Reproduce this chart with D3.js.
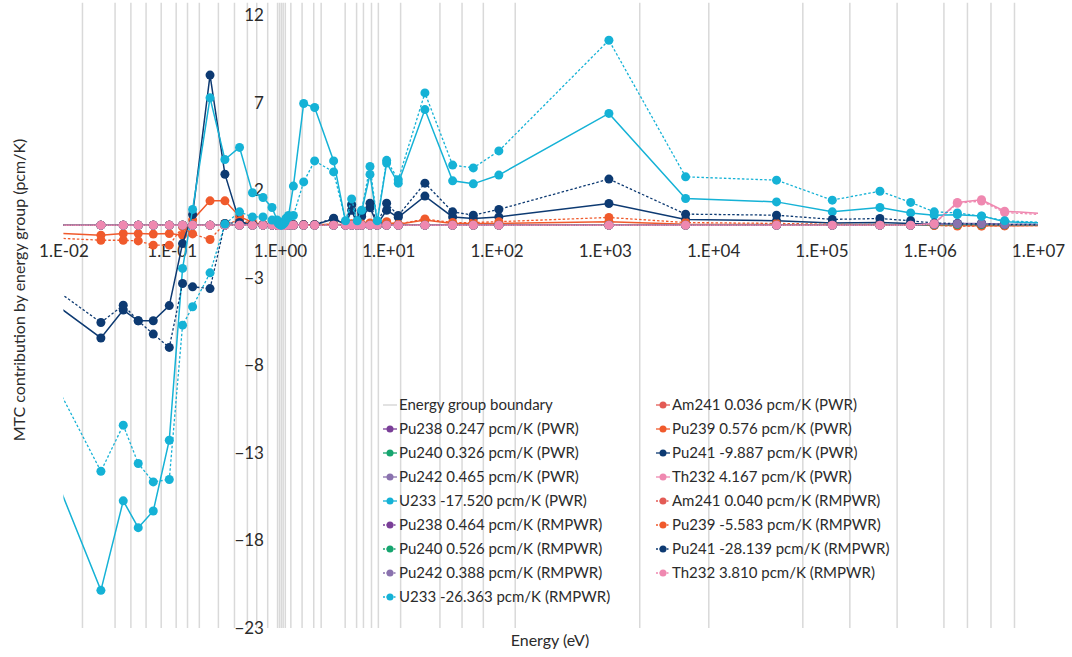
<!DOCTYPE html>
<html>
<head>
<meta charset="utf-8">
<title>MTC contribution by energy group</title>
<style>
  body { margin: 0; background: #fff; }
  svg { font-family: Lato, "Open Sans", sans-serif; }
  .axis text { font-size: 17px; fill: #2b2b2b; }
  .legend text { font-size: 15px; fill: #2b2b2b; }
  .title { font-size: 16px; fill: #2b2b2b; }
</style>
</head>
<body>
<svg width="1072" height="657"></svg>
<script src="https://d3js.org/d3.v7.min.js"></script>
<script>
// group energies (eV) where the points sit; first and last fall outside the axis
const energy = [
  0.0075, 0.0222, 0.0357, 0.0491, 0.0676, 0.095, 0.126, 0.156, 0.226, 0.31,
  0.423, 0.557, 0.697, 0.844, 0.94, 0.965, 0.99, 1.015, 1.04, 1.065,
  1.09, 1.115, 1.14, 1.2, 1.33, 1.655, 2.09, 3.13, 4.03, 4.59,
  5.17, 5.68, 6.78, 7.91, 9.66, 12.37, 21.8, 39.3, 61, 105,
  1090, 5570, 38500, 126000, 347000, 667000, 1.1e6, 1.8e6, 3.01e6, 4.92e6, 1.5e7
];

// energy group boundaries (eV)
const groupBoundaries = [
  0.015, 0.03, 0.042, 0.058, 0.08, 0.11, 0.14, 0.18, 0.27, 0.38,
  0.5, 0.61, 0.77, 0.95, 0.99, 1.03, 1.07, 1.12, 1.26, 1.6,
  2.05, 2.4, 4.0, 5.1, 5.9, 7.0, 8.1, 13, 30, 48,
  75.5, 148.7, 2100, 9118, 67340, 183000, 500000, 1353000, 2231000, 3679000,
  6065500
];
const boundaryBottom = -23;
const boundaryTop = 12.7;

const xTicks = [1e-2, 1e-1, 1e0, 1e1, 1e2, 1e3, 1e4, 1e5, 1e6, 1e7];
const xTickLabels = ["1.E-02", "1.E-01", "1.E+00", "1.E+01", "1.E+02", "1.E+03", "1.E+04", "1.E+05", "1.E+06", "1.E+07"];
const yTicks = [-23, -18, -13, -8, -3, 2, 7, 12];

// MTC contribution per group (pcm/K)
const am241PWR = [
  0, 0, 0, 0, 0, 0, 0, 0, 0, 0,
  0, 0, 0, 0, 0, 0, 0, 0, 0, 0,
  0, 0, 0, 0, 0, 0, 0, 0, 0, 0,
  0, 0, 0, 0, 0, 0, 0, 0, 0, 0,
  0, 0, 0, 0, 0, 0, 0, 0, 0, 0, 0
];
const pu238PWR = [
  0, 0, 0, 0, 0, 0, 0, 0, 0, 0,
  0, 0, 0, 0, 0, 0, 0, 0, 0, 0,
  0, 0, 0, 0, 0, 0, 0, 0, 0, 0,
  0, 0, 0, 0, 0, 0, 0, 0, 0, 0,
  0, 0, 0, 0, 0, 0, 0.02, 0.04, 0.04, 0.02, 0.01
];
const pu239PWR = [
  -0.45, -0.57, -0.48, -0.48, -0.51, -0.48, -0.57, 0.3, 1.39, 1.39,
  0.5, 0.15, 0.05, 0.03, 0.02, 0.02, 0.02, 0.02, 0.02, 0.02,
  0.02, 0.02, 0.02, 0.02, 0.02, 0.02, 0.02, 0.05, 0.02, 0.05,
  0.02, 0.05, 0.1, 0.02, 0.15, 0.05, 0.3, 0.1, 0.1, 0.1,
  0.2, 0.05, 0.03, 0.02, 0.02, 0.01, 0, -0.02, -0.03, -0.03, -0.02
];
const pu240PWR = [
  0, 0, 0, 0, 0, 0, 0, 0, 0, 0,
  0, 0, 0, 0, 0, 0, 0, 0, 0, 0,
  0, 0, 0, 0, 0, 0, 0, 0, 0, 0,
  0, 0, 0, 0, 0, 0, 0, 0, 0, 0,
  0, 0, 0, 0, 0, 0, 0.01, 0.03, 0.03, 0.02, 0.01
];
const pu241PWR = [
  -4.29, -6.44, -4.85, -5.46, -5.46, -4.59, -1.05, 0.61, 8.57, 2.91,
  0.2, 0.05, 0.02, 0.02, 0.02, 0.02, 0.02, 0.02, 0.02, 0.02,
  0.02, 0.02, 0.02, 0.02, 0.02, 0.02, 0.03, 0.35, 0.05, 0.85,
  0.05, 0.5, 1.0, 0.05, 0.85, 0.45, 1.66, 0.47, 0.38, 0.47,
  1.24, 0.33, 0.25, 0.12, 0.15, 0.1, 0.05, 0.05, 0.04, 0.03, 0.02
];
const pu242PWR = [
  0, 0, 0, 0, 0, 0, 0, 0, 0, 0,
  0, 0, 0, 0, 0, 0, 0, 0, 0, 0,
  0, 0, 0, 0, 0, 0, 0, 0, 0, 0,
  0, 0, 0, 0, 0, 0, 0, 0, 0, 0,
  0, 0, 0, 0, 0, 0, 0.05, 0.1, 0.1, 0.05, 0.03
];
const th232PWR = [
  0, 0, 0, 0, 0, 0, 0, 0, 0, 0,
  0, 0, 0, 0, 0, 0, 0, 0, 0, 0,
  0, 0, 0, 0, 0, 0, 0, 0, 0, 0,
  0, 0, 0, 0, 0, 0, 0, 0, 0, 0,
  0, 0, 0, 0, 0, 0, 0.1, 1.3, 1.45, 0.8, 0.62
];
const u233PWR = [
  -13.6, -20.85, -15.74, -17.27, -16.32, -12.28, -2.47, 0.9, 7.27, 3.75,
  4.44, 1.85, 1.58, 1.01, 0.3, 0.2, 0.1, 0.05, 0.05, 0.1,
  0.15, 0.25, 0.4, 0.55, 2.23, 6.95, 6.72, 3.67, 0.2, 1.2,
  0.2, 0.8, 2.9, 0.2, 3.55, 2.4, 6.6, 2.53, 2.36, 2.86,
  6.38, 1.52, 1.33, 0.76, 1.01, 0.7, 0.57, 0.6, 0.53, 0.19, 0.1
];

const am241RMPWR = [
  0, 0, 0, 0, 0, 0, 0, 0, 0, 0,
  0, 0, 0, 0, 0, 0, 0, 0, 0, 0,
  0, 0, 0, 0, 0, 0, 0, 0, 0, 0,
  0, 0, 0, 0, 0, 0, 0, 0, 0, 0,
  0, 0, 0, 0, 0, 0, 0, 0, 0, 0, 0
];
const pu238RMPWR = [
  0, 0, 0, 0, 0, 0, 0, 0, 0, 0,
  0, 0, 0, 0, 0, 0, 0, 0, 0, 0,
  0, 0, 0, 0, 0, 0, 0, 0, 0, 0,
  0, 0, 0, 0, 0, 0, 0, 0, 0, 0,
  0, 0, 0, 0, 0, 0, 0.03, 0.06, 0.06, 0.03, 0.02
];
const pu239RMPWR = [
  -0.72, -0.86, -0.86, -0.9, -1.14, -1.14, -0.1, -0.5, -0.82, 0.1,
  0.25, 0.1, 0.03, 0.02, 0.02, 0.02, 0.02, 0.02, 0.02, 0.02,
  0.02, 0.02, 0.02, 0.02, 0.02, 0.02, 0.02, 0.05, 0.02, 0.08,
  0.02, 0.06, 0.12, 0.02, 0.2, 0.06, 0.35, 0.15, 0.15, 0.2,
  0.44, 0.15, 0.1, 0.05, 0.04, 0.02, -0.02, -0.05, -0.05, -0.03, -0.02
];
const pu240RMPWR = [
  0, 0, 0, 0, 0, 0, 0, 0, 0, 0,
  0, 0, 0, 0, 0, 0, 0, 0, 0, 0,
  0, 0, 0, 0, 0, 0, 0, 0, 0, 0,
  0, 0, 0, 0, 0, 0, 0, 0, 0, 0,
  0, 0, 0, 0, 0, 0, 0.02, 0.04, 0.04, 0.02, 0.01
];
const pu241RMPWR = [
  -3.45, -5.56, -4.57, -5.46, -6.22, -6.98, -3.33, -3.52, -3.62, 0.1,
  0.15, 0.05, 0.02, 0.02, 0.02, 0.02, 0.02, 0.02, 0.02, 0.02,
  0.02, 0.02, 0.02, 0.02, 0.02, 0.02, 0.03, 0.4, 0.1, 1.15,
  0.05, 0.7, 1.25, 0.1, 1.25, 0.55, 2.4, 0.76, 0.57, 0.9,
  2.63, 0.63, 0.57, 0.33, 0.38, 0.25, 0.12, 0.1, 0.08, 0.05, 0.03
];
const pu242RMPWR = [
  0, 0, 0, 0, 0, 0, 0, 0, 0, 0,
  0, 0, 0, 0, 0, 0, 0, 0, 0, 0,
  0, 0, 0, 0, 0, 0, 0, 0, 0, 0,
  0, 0, 0, 0, 0, 0, 0, 0, 0, 0,
  0, 0, 0, 0, 0, 0, 0.04, 0.08, 0.08, 0.04, 0.02
];
const th232RMPWR = [
  0, 0, 0, 0, 0, 0, 0, 0, 0, 0,
  0, 0, 0, 0, 0, 0, 0, 0, 0, 0,
  0, 0, 0, 0, 0, 0, 0, 0, 0, 0,
  0, 0, 0, 0, 0, 0, 0, 0, 0, 0,
  0, 0, 0, 0, 0, 0, 0.08, 1.25, 1.38, 0.72, 0.55
];
const u233RMPWR = [
  -8.43, -14.05, -11.42, -13.61, -14.66, -14.52, -5.71, -4.66, -2.72, 0.06,
  0.76, 0.47, 0.47, 0.29, 0.2, 0.1, 0.05, 0.0, 0.0, 0.05,
  0.1, 0.2, 0.35, 0.45, 0.55, 2.47, 3.67, 3.04, 0.25, 1.5,
  0.25, 0.85, 3.35, 0.25, 3.7, 2.6, 7.55, 3.43, 3.27, 4.24,
  10.56, 2.76, 2.57, 1.43, 1.94, 1.3, 0.76, 0.7, 0.51, 0.25, 0.12
];

const colors = {
  Am241: "#e35b55",
  Pu238: "#7a3f98",
  Pu239: "#f05a2c",
  Pu240: "#16a56f",
  Pu241: "#0d3a72",
  Pu242: "#8a72ae",
  Th232: "#ef88b0",
  U233: "#15b2d6"
};

// drawing order (same as the workbook's series order)
const series = [
  { iso: "Am241", label: "Am241 0.036 pcm/K (PWR)", dashed: false, values: am241PWR },
  { iso: "Pu238", label: "Pu238 0.247 pcm/K (PWR)", dashed: false, values: pu238PWR },
  { iso: "Pu239", label: "Pu239 0.576 pcm/K (PWR)", dashed: false, values: pu239PWR },
  { iso: "Pu240", label: "Pu240 0.326 pcm/K (PWR)", dashed: false, values: pu240PWR },
  { iso: "Pu241", label: "Pu241 -9.887 pcm/K (PWR)", dashed: false, values: pu241PWR },
  { iso: "Pu242", label: "Pu242 0.465 pcm/K (PWR)", dashed: false, values: pu242PWR },
  { iso: "Th232", label: "Th232 4.167 pcm/K (PWR)", dashed: false, values: th232PWR },
  { iso: "U233", label: "U233 -17.520 pcm/K (PWR)", dashed: false, values: u233PWR },
  { iso: "Am241", label: "Am241 0.040 pcm/K (RMPWR)", dashed: true, values: am241RMPWR },
  { iso: "Pu238", label: "Pu238 0.464 pcm/K (RMPWR)", dashed: true, values: pu238RMPWR },
  { iso: "Pu239", label: "Pu239 -5.583 pcm/K (RMPWR)", dashed: true, values: pu239RMPWR },
  { iso: "Pu240", label: "Pu240 0.526 pcm/K (RMPWR)", dashed: true, values: pu240RMPWR },
  { iso: "Pu241", label: "Pu241 -28.139 pcm/K (RMPWR)", dashed: true, values: pu241RMPWR },
  { iso: "Pu242", label: "Pu242 0.388 pcm/K (RMPWR)", dashed: true, values: pu242RMPWR },
  { iso: "Th232", label: "Th232 3.810 pcm/K (RMPWR)", dashed: true, values: th232RMPWR },
  { iso: "U233", label: "U233 -26.363 pcm/K (RMPWR)", dashed: true, values: u233RMPWR }
];

const svg = d3.select("svg");
const x = d3.scaleLog().domain([1e-2, 1e7]).range([63.4, 1038]);
const y = d3.scaleLinear().domain([-23, 12]).range([628, 15]);

svg.append("defs").append("clipPath").attr("id", "plot")
  .append("rect")
  .attr("x", x.range()[0]).attr("y", 0)
  .attr("width", x.range()[1] - x.range()[0]).attr("height", 657);

// energy group boundaries
svg.append("g")
  .selectAll("line")
  .data(groupBoundaries)
  .join("line")
  .attr("x1", d => x(d)).attr("x2", d => x(d))
  .attr("y1", y(boundaryBottom)).attr("y2", y(boundaryTop))
  .attr("stroke", "#d9d9d9")
  .attr("stroke-width", 1.5);

// horizontal axis line at zero
svg.append("line")
  .attr("x1", x.range()[0]).attr("x2", x.range()[1])
  .attr("y1", y(0)).attr("y2", y(0))
  .attr("stroke", "#d9d9d9");

// x axis labels sit on the zero line
svg.append("g")
  .attr("class", "axis")
  .attr("transform", `translate(0,${y(0)})`)
  .call(d3.axisBottom(x).tickValues(xTicks).tickSize(0).tickPadding(20)
    .tickFormat((d, i) => xTickLabels[i]))
  .call(g => g.select(".domain").remove())
  .attr("font-size", null).attr("font-family", null);

// y axis labels beside 1 eV
svg.append("g")
  .attr("class", "axis")
  .attr("transform", `translate(${x(1)},0)`)
  .call(d3.axisLeft(y).tickValues(yTicks).tickSize(0).tickPadding(16))
  .call(g => g.select(".domain").remove())
  .attr("font-size", null).attr("font-family", null);

// series
const line = d3.line()
  .x((d, i) => x(energy[i]))
  .y(d => y(d));

series.forEach(s => {
  const col = colors[s.iso];
  const g = svg.append("g").attr("clip-path", "url(#plot)");
  g.append("path")
    .datum(s.values)
    .attr("d", line)
    .attr("fill", "none")
    .attr("stroke", col)
    .attr("stroke-width", s.dashed ? 1.3 : 1.5)
    .attr("stroke-dasharray", s.dashed ? "2.5,2" : null);
  g.selectAll("circle")
    .data(s.values)
    .join("circle")
    .attr("cx", (d, i) => x(energy[i]))
    .attr("cy", d => y(d))
    .attr("r", 4.5)
    .attr("fill", col);
});

// axis titles
svg.append("text")
  .attr("class", "title")
  .attr("transform", "translate(19,290) rotate(-90)")
  .attr("text-anchor", "middle")
  .attr("dy", "0.35em")
  .text("MTC contribution by energy group (pcm/K)");

svg.append("text")
  .attr("class", "title")
  .attr("x", 550).attr("y", 646)
  .attr("text-anchor", "middle")
  .text("Energy (eV)");

// legend: column 1 holds Pu238, Pu240, Pu242, U233; column 2 Am241, Pu239, Pu241, Th232
const col1 = [1, 3, 5, 7, 9, 11, 13, 15].map(i => series[i]);
const col2 = [0, 2, 4, 6, 8, 10, 12, 14].map(i => series[i]);
const legendCols = [[{ label: "Energy group boundary", boundary: true }].concat(col1), col2];

const legend = svg.append("g").attr("class", "legend");
const colX = [383, 656];
legendCols.forEach((items, c) => {
  const rows = legend.append("g")
    .selectAll("g")
    .data(items)
    .join("g")
    .attr("transform", (d, i) => `translate(${colX[c]},${405 + i * 24})`);
  rows.append("line")
    .attr("x1", 0).attr("x2", 14)
    .attr("stroke", d => d.boundary ? "#d9d9d9" : colors[d.iso])
    .attr("stroke-width", d => d.boundary ? 1.5 : 1.3)
    .attr("stroke-dasharray", d => d.dashed ? "2,1.5" : null);
  rows.filter(d => !d.boundary).append("circle")
    .attr("cx", 7).attr("r", 3.5)
    .attr("fill", d => colors[d.iso]);
  rows.append("text")
    .attr("x", 16)
    .attr("dy", "0.35em")
    .text(d => d.label);
});
</script>
</body>
</html>
